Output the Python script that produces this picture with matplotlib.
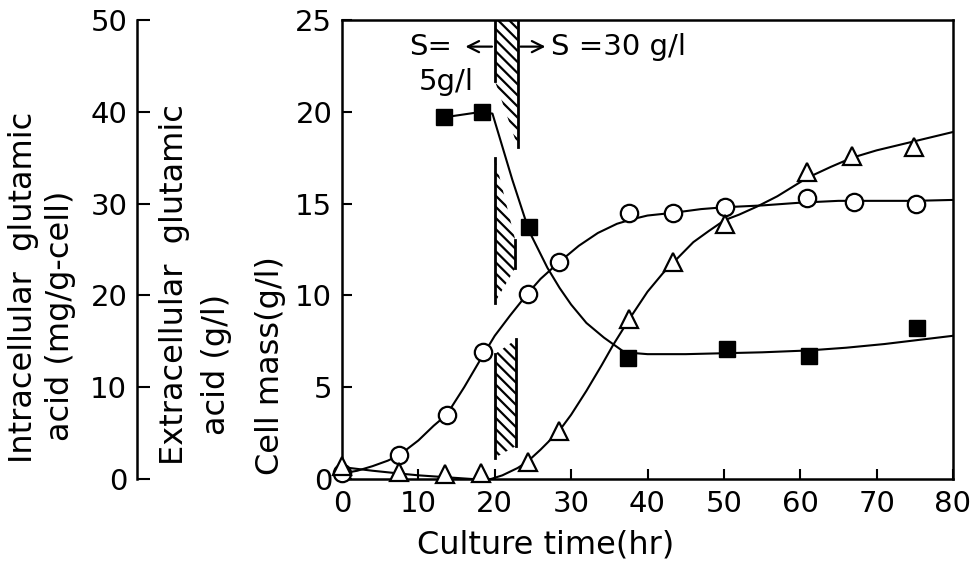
import matplotlib
matplotlib.use("Agg")
import matplotlib.pyplot as plt

plt.rcParams['font.family'] = ['DejaVu Sans']
plt.rcParams['hatch.linewidth'] = 1.6

# ---- data ----
circle_t = [0, 7.5, 13.7, 18.4, 24.3, 28.4, 37.6, 43.4, 50.1, 60.9, 67.1, 75.1]
circle_y = [0.3, 1.3, 3.5, 6.9, 10.1, 11.8, 14.5, 14.5, 14.8, 15.3, 15.1, 15.0]

triangle_t = [0, 7.5, 13.5, 18.2, 24.3, 28.4, 37.6, 43.4, 50.1, 60.9, 66.8, 74.9]
triangle_y = [0.7, 0.4, 0.25, 0.3, 0.95, 2.6, 8.7, 11.8, 13.9, 16.7, 17.6, 18.1]

square_t = [13.4, 18.3, 24.5, 37.4, 50.4, 61.2, 75.3]
square_y = [19.7, 20.0, 13.7, 6.6, 7.1, 6.7, 8.2]

# hand-drawn guide curves
circle_curve_t = [0, 2, 4, 6, 7.5, 10, 12, 13.7, 16, 18.4, 20, 22, 24.3, 26, 28.4,
                  31, 33.5, 36, 38, 40, 43.4, 47, 50, 55, 60, 65, 70, 75, 80]
circle_curve_y = [0.3, 0.45, 0.7, 1.0, 1.3, 2.1, 2.9, 3.5, 5.0, 6.7, 7.8, 8.9, 10.1, 10.9, 11.8,
                  12.7, 13.4, 13.9, 14.15, 14.35, 14.5, 14.7, 14.8, 14.9, 15.05, 15.15, 15.15, 15.15, 15.2]

triangle_curve_t = [0, 4, 7.5, 10, 13.5, 17, 19.5, 21, 23, 24.3, 26, 28.4, 30, 32, 34, 35.5,
                    37.6, 40, 42, 43.4, 46, 48, 50.1, 52, 54.4, 57, 60.9, 64, 66.8, 70, 75, 80]
triangle_curve_y = [0.65, 0.45, 0.3, 0.2, 0.1, 0.0, 0.0, 0.2, 0.6, 0.95, 1.6, 2.6, 3.5, 4.8, 6.2, 7.3,
                    8.7, 10.2, 11.2, 11.8, 12.9, 13.5, 14.1, 14.4, 14.85, 15.4, 16.4, 17.0, 17.5, 17.9, 18.4, 18.9]

square_curve_t = [13.4, 18.3, 19.7, 21, 22.3, 24.5, 26.9, 28.5, 30, 32, 34.3, 37, 40, 45, 50,
                  55, 61, 66, 71, 76, 80]
square_curve_y = [19.7, 20.0, 19.9, 18.1, 16.3, 13.5, 11.5, 10.4, 9.5, 8.5, 7.7, 6.9, 6.8, 6.8, 6.85,
                  6.9, 7.0, 7.15, 7.35, 7.6, 7.8]

# hatched medium-shift band (three pieces)
band_upper_t = [20, 23, 23, 20]
band_upper_y = [25, 25, 18.1, 21.7]
band_middle_t = [20, 22.7, 22.7, 20]
band_middle_y = [17.5, 13.0, 11.5, 9.6]
band_lower_t = [20, 22.8, 22.8, 20]
band_lower_y = [6.8, 7.6, 1.8, 1.15]

x_ticks = [0, 10, 20, 30, 40, 50, 60, 70, 80]
cell_ticks = [0, 5, 10, 15, 20, 25]
intra_ticks = [0, 10, 20, 30, 40, 50]

# ---- figure ----
W, H = 974, 564
fig = plt.figure(figsize=(W / 100, H / 100), dpi=100)
L, R, T, B = 342, 953, 20, 479
ax = fig.add_axes([L / W, 1 - B / H, (R - L) / W, (B - T) / H])

lw = 1.5
ax.plot(circle_curve_t, circle_curve_y, color='black', lw=lw, zorder=2)
ax.plot(triangle_curve_t, triangle_curve_y, color='black', lw=lw, zorder=2)
ax.plot(square_curve_t, square_curve_y, color='black', lw=lw, zorder=2)

ax.plot(circle_t, circle_y, 'o', ms=12.5, mfc='white', mec='black', mew=1.6, zorder=4, clip_on=False)
ax.plot(triangle_t, triangle_y, '^', ms=13.5, mfc='white', mec='black', mew=1.6, zorder=4, clip_on=False)
ax.plot(square_t, square_y, 's', ms=11.5, mfc='black', mec='black', mew=1.0, zorder=4)

for bt, by in [(band_upper_t, band_upper_y), (band_middle_t, band_middle_y), (band_lower_t, band_lower_y)]:
    ax.fill(bt, by, facecolor='none', edgecolor='black', hatch='\\\\\\', linewidth=0, zorder=1)
# band edge lines
ax.plot([band_upper_t[0], band_upper_t[3]], [band_upper_y[0], band_upper_y[3]], color='black', lw=2)
ax.plot([band_upper_t[1], band_upper_t[2]], [band_upper_y[1], band_upper_y[2]], color='black', lw=2)
ax.plot([band_middle_t[0], band_middle_t[3]], [band_middle_y[0], band_middle_y[3]], color='black', lw=2)
ax.plot([band_middle_t[1], band_middle_t[2]], [band_middle_y[1], band_middle_y[2]], color='black', lw=2)
ax.plot([band_lower_t[0], band_lower_t[3]], [band_lower_y[0], band_lower_y[3]], color='black', lw=2)
ax.plot([band_lower_t[1], band_lower_t[2]], [band_lower_y[1], band_lower_y[2]], color='black', lw=2)

# annotation
fs = 21
ax.text(11.6, 23.55, 'S=', fontsize=fs, ha='center', va='center')
ax.text(13.6, 21.6, '5g/l', fontsize=fs, ha='center', va='center')
ax.text(27.3, 23.55, 'S =30 g/l', fontsize=fs, ha='left', va='center')
ax.annotate('', xy=(15.8, 23.55), xytext=(20, 23.55),
            arrowprops=dict(arrowstyle='->', lw=1.6, color='black', mutation_scale=20))
ax.annotate('', xy=(27.0, 23.55), xytext=(23, 23.55),
            arrowprops=dict(arrowstyle='->', lw=1.6, color='black', mutation_scale=20))

ax.set_xlim(0, 80)
ax.set_ylim(0, 25)
ax.set_xticks(x_ticks)
ax.set_yticks(cell_ticks)
ax.tick_params(axis='both', direction='in', length=7, width=1.5, labelsize=21)
ax.tick_params(axis='y', pad=7)
ax.tick_params(axis='x', pad=8)
for s in ax.spines.values():
    s.set_linewidth(1.8)

# left (intracellular) axis
ax2 = fig.add_axes([137 / W, 1 - B / H, 0.0001, (B - T) / H])
ax2.patch.set_visible(False)
for k in ['right', 'top', 'bottom']:
    ax2.spines[k].set_visible(False)
ax2.spines['left'].set_linewidth(1.8)
ax2.set_ylim(0, 50)
ax2.set_yticks(intra_ticks)
ax2.set_xticks([])
ax2.tick_params(axis='y', direction='in', length=9, width=1.5, labelsize=21, pad=7)

# axis titles
lfs = 23
fig.text(24 / W, 1 - 287 / H, 'Intracellular  glutamic', rotation=90, fontsize=lfs, ha='center', va='center')
fig.text(61 / W, 1 - 316 / H, 'acid (mg/g-cell)', rotation=90, fontsize=lfs, ha='center', va='center')
fig.text(175 / W, 1 - 285 / H, 'Extracellular  glutamic', rotation=90, fontsize=lfs, ha='center', va='center')
fig.text(217 / W, 1 - 364 / H, 'acid (g/l)', rotation=90, fontsize=lfs, ha='center', va='center')
fig.text(270 / W, 1 - 366 / H, 'Cell mass(g/l)', rotation=90, fontsize=lfs, ha='center', va='center')
fig.text(546 / W, 1 - 545 / H, 'Culture time(hr)', fontsize=lfs, ha='center', va='center')

fig.savefig('out.png', dpi=100)
